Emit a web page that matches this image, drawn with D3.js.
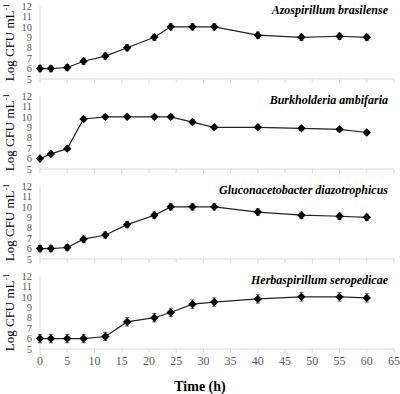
<!DOCTYPE html>
<html>
<head>
<meta charset="utf-8">
<script src="https://cdn.jsdelivr.net/npm/d3@7"></script>
<style>
  body { margin: 0; background: #fff; }
  svg { display: block; }
</style>
</head>
<body>
<div id="chart"></div>
<script>
// sampling times (h)
const times = [0, 2, 5, 8, 12, 16, 21, 24, 28, 32, 40, 48, 55, 60];

const strains = [
  "Azospirillum brasilense",
  "Burkholderia ambifaria",
  "Gluconacetobacter diazotrophicus",
  "Herbaspirillum seropedicae"
];

// Log CFU mL-1 per strain
const azospirillum   = [6.0, 6.0, 6.1, 6.7, 7.2, 8.0, 9.0, 10.0, 10.0, 10.0, 9.2, 9.0, 9.1, 9.0];
const burkholderia   = [6.0, 6.45, 6.95, 9.8, 10.0, 10.0, 10.0, 10.0, 9.5, 9.0, 9.0, 8.9, 8.8, 8.5];
const gluconaceto    = [6.0, 6.0, 6.1, 6.9, 7.3, 8.3, 9.2, 10.0, 10.0, 10.0, 9.5, 9.2, 9.1, 9.0];
const herbaspirillum = [6.0, 6.0, 6.0, 6.0, 6.2, 7.6, 8.0, 8.5, 9.3, 9.5, 9.8, 10.0, 10.0, 9.9];

// standard deviation (approx.)
const errAzo   = [0.3, 0.3, 0.3, 0.3, 0.3, 0.3, 0.3, 0.3, 0.3, 0.3, 0.3, 0.3, 0.3, 0.3];
const errBurk  = [0.2, 0.2, 0.2, 0.2, 0.2, 0.2, 0.2, 0.2, 0.2, 0.2, 0.2, 0.2, 0.2, 0.2];
const errGluc  = [0.3, 0.3, 0.3, 0.3, 0.3, 0.3, 0.3, 0.3, 0.3, 0.3, 0.3, 0.3, 0.3, 0.3];
const errHerb  = [0.4, 0.4, 0.4, 0.4, 0.4, 0.4, 0.4, 0.4, 0.4, 0.4, 0.4, 0.4, 0.4, 0.4];

const yTicks = [5, 6, 7, 8, 9, 10, 11, 12];
const xTicks = [0, 5, 10, 15, 20, 25, 30, 35, 40, 45, 50, 55, 60, 65];

const series = [azospirillum, burkholderia, gluconaceto, herbaspirillum];
const errors = [errAzo, errBurk, errGluc, errHerb];

const SERIF = '"Times New Roman", "Liberation Serif", "DejaVu Serif", serif';
const W = 400, H = 394;
const left = 40, right = 394;
const panelTops = [6, 96, 186, 276];
const panelH = 73;

const svg = d3.select('#chart').append('svg')
  .attr('width', W).attr('height', H);

const x = d3.scaleLinear().domain([0, 65]).range([left, right]);

// diamond marker, as wide as it is tall
const diamond = r => `M0,${-r}L${r},0L0,${r}L${-r},0Z`;

series.forEach((vals, i) => {
  const top = panelTops[i];
  const y = d3.scaleLinear().domain([5, 12]).range([top + panelH, top]);
  const g = svg.append('g');
  const pts = times.map((t, k) => ({ t, v: vals[k], e: errors[i][k] }));

  // axes lines
  g.append('line')
    .attr('x1', left).attr('x2', left)
    .attr('y1', y(12)).attr('y2', y(5))
    .attr('stroke', '#d9d9d9').attr('stroke-width', 1);
  g.append('line')
    .attr('x1', left).attr('x2', right)
    .attr('y1', y(5)).attr('y2', y(5))
    .attr('stroke', '#d9d9d9').attr('stroke-width', 1);
  g.selectAll('.xt').data(xTicks).join('line')
    .attr('x1', d => x(d)).attr('x2', d => x(d))
    .attr('y1', y(5)).attr('y2', y(5) + 4)
    .attr('stroke', '#d9d9d9');

  // y tick labels
  g.selectAll('.yl').data(yTicks).join('text')
    .attr('x', left - 8)
    .attr('y', d => y(d))
    .attr('dy', '0.35em')
    .attr('text-anchor', 'end')
    .attr('font-family', SERIF)
    .attr('font-size', 10.5)
    .attr('fill', '#595959')
    .text(d => d);

  // y axis title
  const yt = g.append('text')
    .attr('transform', `translate(14,${top + panelH / 2}) rotate(-90)`)
    .attr('text-anchor', 'middle')
    .attr('font-family', SERIF)
    .attr('font-size', 13)
    .attr('fill', '#000');
  yt.append('tspan').text('Log CFU mL');
  yt.append('tspan').attr('dy', -5).attr('font-size', 8).text('-1');

  // strain name
  g.append('text')
    .attr('x', 388).attr('y', top + 8)
    .attr('text-anchor', 'end')
    .attr('font-family', SERIF)
    .attr('font-size', 12)
    .attr('font-weight', 'bold')
    .attr('font-style', 'italic')
    .text(strains[i]);

  // error bars
  g.selectAll('.eb').data(pts).join('path')
    .attr('d', d => `M${x(d.t) - 2},${y(d.v + d.e)}H${x(d.t) + 2}M${x(d.t)},${y(d.v + d.e)}V${y(d.v - d.e)}M${x(d.t) - 2},${y(d.v - d.e)}H${x(d.t) + 2}`)
    .attr('stroke', '#555').attr('stroke-width', 1).attr('fill', 'none');

  // line
  g.append('path').datum(pts)
    .attr('d', d3.line().x(d => x(d.t)).y(d => y(d.v)))
    .attr('fill', 'none').attr('stroke', '#222').attr('stroke-width', 1.2);

  // markers
  g.selectAll('.mk').data(pts).join('path')
    .attr('transform', d => `translate(${x(d.t)},${y(d.v)})`)
    .attr('d', diamond(4.2))
    .attr('fill', '#000');

  // x tick labels on last panel
  if (i === series.length - 1) {
    g.selectAll('.xl').data(xTicks).join('text')
      .attr('x', d => x(d))
      .attr('y', y(5) + 16)
      .attr('text-anchor', 'middle')
      .attr('font-family', SERIF)
      .attr('font-size', 12)
      .attr('fill', '#595959')
      .text(d => d);
  }
});

svg.append('text')
  .attr('x', 200).attr('y', 391)
  .attr('text-anchor', 'middle')
  .attr('font-family', SERIF)
  .attr('font-size', 14)
  .attr('font-weight', 'bold')
  .text('Time (h)');
</script>
</body>
</html>
